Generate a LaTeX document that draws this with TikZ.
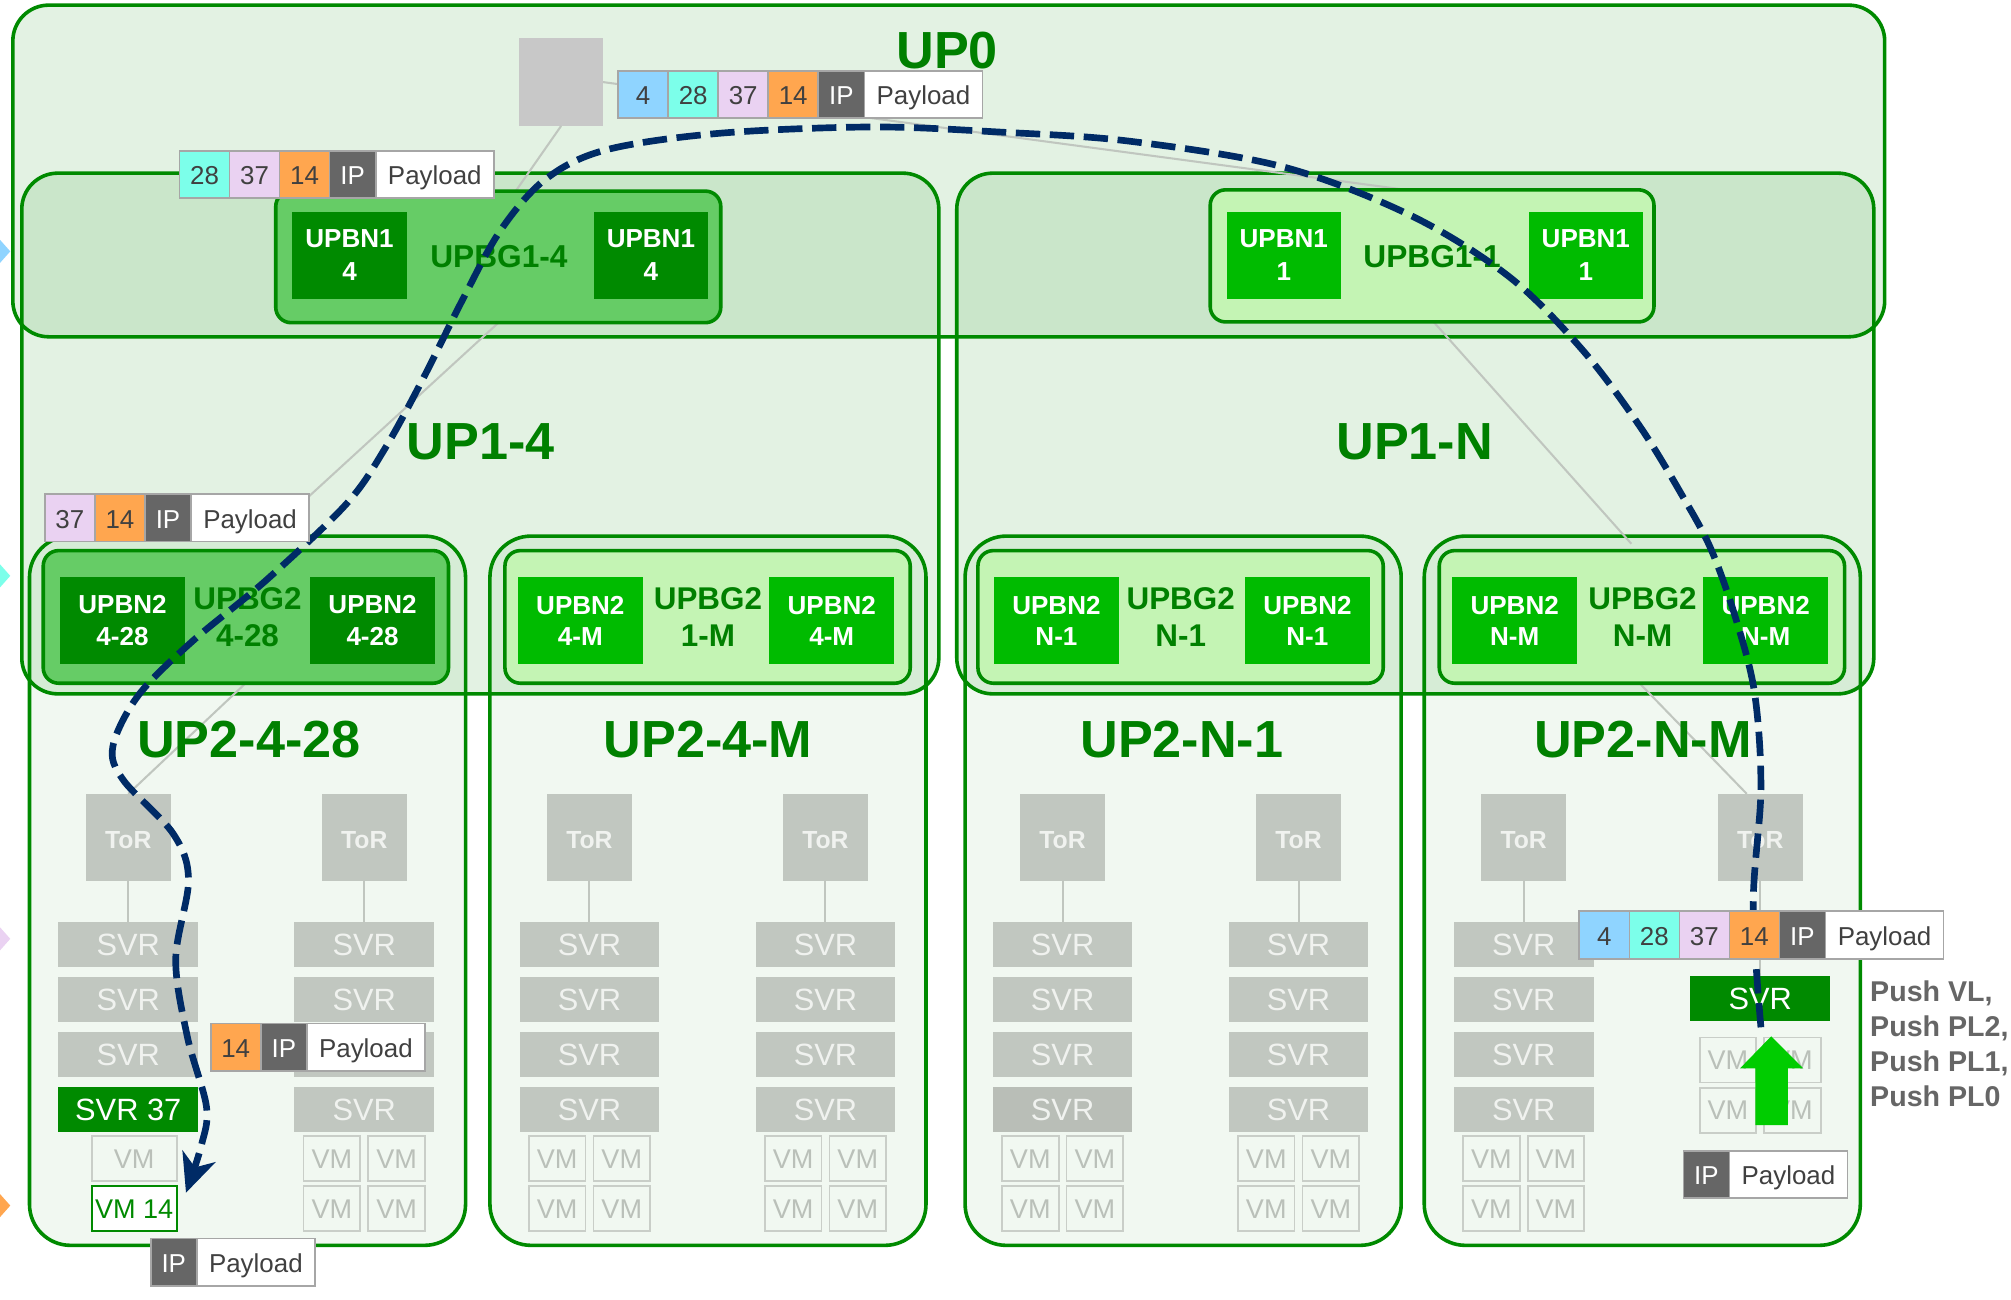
\documentclass[tikz,border=0pt]{standalone}
\usepackage{fontspec}
\setmainfont{Liberation Sans}
\usetikzlibrary{positioning,arrows.meta}
\definecolor{upg}{HTML}{008A00}
\definecolor{lblg}{HTML}{008000}
\definecolor{bgdark}{HTML}{66CC66}
\definecolor{bglight}{HTML}{C4F4B4}
\definecolor{bndark}{HTML}{008A00}
\definecolor{bnlight}{HTML}{00BB00}
\definecolor{gnode}{HTML}{C1C7C0}
\definecolor{gnodedk}{HTML}{B9BEB7}
\definecolor{svrt}{HTML}{F0F2EF}
\definecolor{gsq}{HTML}{C8C8C8}
\definecolor{vmb}{HTML}{C9CEC8}
\definecolor{vmt}{HTML}{BAC0B9}
\definecolor{cfour}{HTML}{8FD4FF}
\definecolor{ctwe}{HTML}{7CFFEA}
\definecolor{cthi}{HTML}{EAD2F2}
\definecolor{cfou}{HTML}{FFA64F}
\definecolor{cip}{HTML}{666666}
\definecolor{pkb}{HTML}{A6A6A6}
\definecolor{pkt}{HTML}{404040}
\definecolor{navy}{HTML}{002B66}
\definecolor{arrg}{HTML}{00CC00}
\definecolor{pusht}{HTML}{666666}
\definecolor{glin}{HTML}{C0C6BF}
\newcommand\fsz[2]{\fontsize{#1}{#2}\selectfont}
\newcommand\stdcol[3]{%
  \node[tor] (#1t) at (#2,652.8) {ToR};
  \node[svr] (#1s1) at (#2,736.4) {SVR};
  \node[svr] (#1s2) at (#2,779.2) {SVR};
  \node[svr] (#1s3) at (#2,822.1) {SVR};
  \node[svr, fill=#3] (#1s4) at (#2,865) {SVR};
  \draw[gline] (#1t) -- (#1s1);
  \node[vm] (#1va) at ({#2-25.2},903.3) {VM};
  \node[vm] (#1vb) at ({#2+25.2},903.3) {VM};
  \node[vm] (#1vc) at ({#2-25.2},942.2) {VM};
  \node[vm] (#1vd) at ({#2+25.2},942.2) {VM};
}
\begin{document}
\begin{tikzpicture}[x=1pt,y=-1pt,
  upbox/.style={draw=upg, line width=2.8, fill=upg, fill opacity=0.11, rounded corners=28, inner sep=0, outer sep=0},
  uptwo/.style={draw=upg, line width=2.8, fill=upg, fill opacity=0.055, rounded corners=32, inner sep=0, outer sep=0, minimum width=340, minimum height=553},
  bgbox/.style={draw=upg, line width=2.8, rounded corners=12, inner sep=0, outer sep=0},
  bgd/.style={bgbox, fill=bgdark},
  bgl/.style={bgbox, fill=bglight},
  bnone/.style={inner sep=0, minimum width=89, minimum height=68, text=white, align=center, font=\fsz{20.3}{26}\bfseries},
  bntwo/.style={inner sep=0, minimum width=97.5, minimum height=67.5, text=white, align=center, font=\fsz{20.3}{24.6}\bfseries},
  biglbl/.style={inner sep=0, text=lblg, font=\fsz{40.7}{48}\bfseries, text height=29.1, text depth=0},
  bgonelbl/.style={inner sep=0, text=lblg, font=\fsz{24.7}{28}\bfseries, text height=17.7, text depth=0},
  bgtwolbl/.style={inner sep=0, text=lblg, align=center, font=\fsz{24.5}{28.6}\bfseries},
  tor/.style={fill=gnode, inner sep=0, minimum width=66.3, minimum height=67.7, text=svrt, font=\fsz{19.3}{22}\bfseries, text height=17.4, text depth=0},
  svr/.style={fill=gnode, inner sep=0, minimum width=109, minimum height=34.8, text=svrt, font=\fsz{24}{28}, text height=17.2, text depth=0},
  vm/.style={draw=vmb, line width=1.4, inner sep=0, minimum width=44.2, minimum height=35, text=vmt, font=\fsz{21.1}{24}, text height=15.1, text depth=0},
  gline/.style={draw=glin, line width=1.6},
  pk/.style={draw=pkb, line width=1.3, minimum height=37, inner sep=0, outer sep=0, anchor=west, font=\fsz{20.2}{24}, text=pkt, text height=16, text depth=0},
  num/.style={pk, minimum width=39},
  ipc/.style={pk, minimum width=36, fill=cip, text=white},
  pay/.style={pk, minimum width=92, fill=white},
  pushtxt/.style={inner sep=0, anchor=west, align=left, text=pusht, font=\fsz{22.3}{27.1}\bfseries}
]
\fill[white] (0,0) rectangle (1568,1013);
\useasboundingbox (0,0) rectangle (1568,1013);

% containers
\node[upbox, minimum width=1459.5, minimum height=258.6] (up0) at (739.75,133.3) {};
\node[upbox, minimum width=715, minimum height=406] (up14) at (374.5,338) {};
\node[upbox, minimum width=715, minimum height=406] (up1n) at (1103.5,338) {};
\node[uptwo] (u2a) at (193,694.5) {};
\node[uptwo] (u2b) at (552,694.5) {};
\node[uptwo] (u2c) at (922.5,694.5) {};
\node[uptwo] (u2d) at (1280.5,694.5) {};

% top grey node
\node[fill=gsq, inner sep=0, minimum width=65, minimum height=68] (sq) at (437.5,64) {};

% grey background links
\draw[gline] (sq.south) -- (400,152);
\draw[gline] (445,200) -- (230,397);
\draw[gline] (205,520) -- (100,619);
\draw[gline] (sq.east) -- (1111,150);
\draw[gline] (1108,240) -- (1272,424);
\draw[gline] (1266,520) -- (1362,619);

% UPBG1 groups
\node[bgd, minimum width=347, minimum height=102.6] (bg14) at (388.5,200.3) {};
\node[bnone, fill=bndark] (bn4a) at (272.5,199) {UPBN1\\4};
\node[bnone, fill=bndark] (bn4b) at (507.5,199) {UPBN1\\4};
\node[bgonelbl] (bg14l) at (389,200) {UPBG1-4};

\node[bgl, minimum width=346, minimum height=103] (bg11) at (1116.6,199.5) {};
\node[bnone, fill=bnlight] (bn1a) at (1001,199) {UPBN1\\1};
\node[bnone, fill=bnlight] (bn1b) at (1236.5,199) {UPBN1\\1};
\node[bgonelbl] (bg11l) at (1116.6,200) {UPBG1-1};

% UPBG2 groups
\node[bgd, minimum width=316, minimum height=103.4] (g2a) at (191.7,481) {};
\node[bntwo, fill=bndark] (g2a1) at (95.5,484) {UPBN2\\4-28};
\node[bntwo, fill=bndark] (g2a2) at (290.5,484) {UPBN2\\4-28};
\node[bgtwolbl] (g2al) at (193,481.3) {UPBG2\\4-28};

\node[bgl, minimum width=316, minimum height=103.4] (g2b) at (551.7,481) {};
\node[bntwo, fill=bnlight] (g2b1) at (452.5,484) {UPBN2\\4-M};
\node[bntwo, fill=bnlight] (g2b2) at (648.5,484) {UPBN2\\4-M};
\node[bgtwolbl] (g2bl) at (552,481.3) {UPBG2\\1-M};

\node[bgl, minimum width=316, minimum height=103.4] (g2c) at (920.5,481) {};
\node[bntwo, fill=bnlight] (g2c1) at (823.7,484) {UPBN2\\N-1};
\node[bntwo, fill=bnlight] (g2c2) at (1019.4,484) {UPBN2\\N-1};
\node[bgtwolbl] (g2cl) at (920.6,481.3) {UPBG2\\N-1};

\node[bgl, minimum width=316, minimum height=103.4] (g2d) at (1280.2,481) {};
\node[bntwo, fill=bnlight] (g2d1) at (1181,484) {UPBN2\\N-M};
\node[bntwo, fill=bnlight] (g2d2) at (1376.7,484) {UPBN2\\N-M};
\node[bgtwolbl] (g2dl) at (1280.7,481.3) {UPBG2\\N-M};

% big labels
\node[biglbl] (l0) at (738.5,39) {UP0};
\node[biglbl] (l14) at (375,344) {UP1-4};
\node[biglbl] (l1n) at (1103,344) {UP1-N};
\node[biglbl] (l2a) at (194,576) {UP2-4-28};
\node[biglbl] (l2b) at (552,576) {UP2-4-M};
\node[biglbl] (l2c) at (921.5,576) {UP2-N-1};
\node[biglbl] (l2d) at (1281,576) {UP2-N-M};

% racks
% UP2-4-28 left column
\node[tor] (alt) at (100,652.8) {ToR};
\node[svr] (als1) at (100,736.4) {SVR};
\node[svr] (als2) at (100,779.2) {SVR};
\node[svr] (als3) at (100,822.1) {SVR};
\node[svr, fill=bndark, text=white] (als4) at (100,865) {SVR 37};
\draw[gline] (alt) -- (als1);
\node[vm, minimum width=66.3] (alv) at (104.6,903.3) {VM};
\node[vm, minimum width=66.3, draw=upg, fill=white, text=upg] (alvf) at (104.6,942.2) {VM 14};
\stdcol{ar}{284}{gnode}
\stdcol{bl}{459.6}{gnode}
\stdcol{br}{643.6}{gnode}
\stdcol{cl}{828.5}{gnodedk}
\stdcol{cr}{1012.5}{gnode}
\stdcol{dl}{1188}{gnode}
% UP2-N-M right column
\node[tor] (drt) at (1372.5,652.8) {ToR};
\node[svr, fill=bndark, text=white] (drs) at (1372.5,778.5) {SVR};
\draw[gline] (drt) -- (drs);
\node[vm] (drva) at (1347.3,826.5) {VM};
\node[vm] (drvb) at (1397.5,826.5) {VM};
\node[vm] (drvc) at (1347.3,865.7) {VM};
\node[vm] (drvd) at (1397.5,865.7) {VM};

% dashed path
\draw[navy, line width=5.2, dash pattern=on 19 off 7.5, -{Stealth[length=30,width=27,inset=9]}]
  plot[smooth, tension=0.55] coordinates {
  (1373,801) (1367,705) (1373,615) (1368,540) (1353,481) (1334,428) (1312,387)
  (1279,333) (1234,273) (1177,216) (1100,168) (1000,130) (880,110) (780,103)
  (680,99) (560,104) (472,117) (425,140) (390,180) (360,235) (330,295)
  (300,350) (270,393) (208,452) (150,500) (108,542) (88,582) (96,608)
  (135,650) (147,686) (137,748) (146,808) (161,863) (157,893) (145,930)};

% packets
\node[num, fill=cfour] (p1a) at (482,73.7) {4};
\node[num, fill=ctwe, right=0pt of p1a] (p1b) {28};
\node[num, fill=cthi, right=0pt of p1b] (p1c) {37};
\node[num, fill=cfou, right=0pt of p1c] (p1d) {14};
\node[ipc, right=0pt of p1d] (p1e) {IP};
\node[pay, right=0pt of p1e] (p1f) {Payload};

\node[num, fill=ctwe] (p2b) at (140,136) {28};
\node[num, fill=cthi, right=0pt of p2b] (p2c) {37};
\node[num, fill=cfou, right=0pt of p2c] (p2d) {14};
\node[ipc, right=0pt of p2d] (p2e) {IP};
\node[pay, right=0pt of p2e] (p2f) {Payload};

\node[num, fill=cthi] (p3c) at (35,403.7) {37};
\node[num, fill=cfou, right=0pt of p3c] (p3d) {14};
\node[ipc, right=0pt of p3d] (p3e) {IP};
\node[pay, right=0pt of p3e] (p3f) {Payload};

\node[num, fill=cfou] (p4d) at (164.3,816.4) {14};
\node[ipc, right=0pt of p4d] (p4e) {IP};
\node[pay, right=0pt of p4e] (p4f) {Payload};

\node[ipc] (p5e) at (117.5,984.2) {IP};
\node[pay, right=0pt of p5e] (p5f) {Payload};

\node[num, fill=cfour] (p6a) at (1231.4,729) {4};
\node[num, fill=ctwe, right=0pt of p6a] (p6b) {28};
\node[num, fill=cthi, right=0pt of p6b] (p6c) {37};
\node[num, fill=cfou, right=0pt of p6c] (p6d) {14};
\node[ipc, right=0pt of p6d] (p6e) {IP};
\node[pay, right=0pt of p6e] (p6f) {Payload};

\node[ipc] (p7e) at (1312.5,915.8) {IP};
\node[pay, right=0pt of p7e] (p7f) {Payload};

% green push arrow
\fill[arrg] (1368.7,877.2) -- (1394,877.2) -- (1394,833) -- (1406,833) -- (1381,808)
  -- (1356.7,833) -- (1368.7,833) -- cycle;

% push text
\node[pushtxt] (push) at (1458,813.9) {Push VL,\\Push PL2,\\Push PL1,\\Push PL0};

% edge markers
\fill[cfour] (0,187) -- (8,196) -- (0,205) -- cycle;
\fill[ctwe] (0,440) -- (8,449) -- (0,458) -- cycle;
\fill[cthi] (0,723) -- (8,732) -- (0,741) -- cycle;
\fill[cfou] (0,931) -- (8,940) -- (0,949) -- cycle;
\end{tikzpicture}
\end{document}
